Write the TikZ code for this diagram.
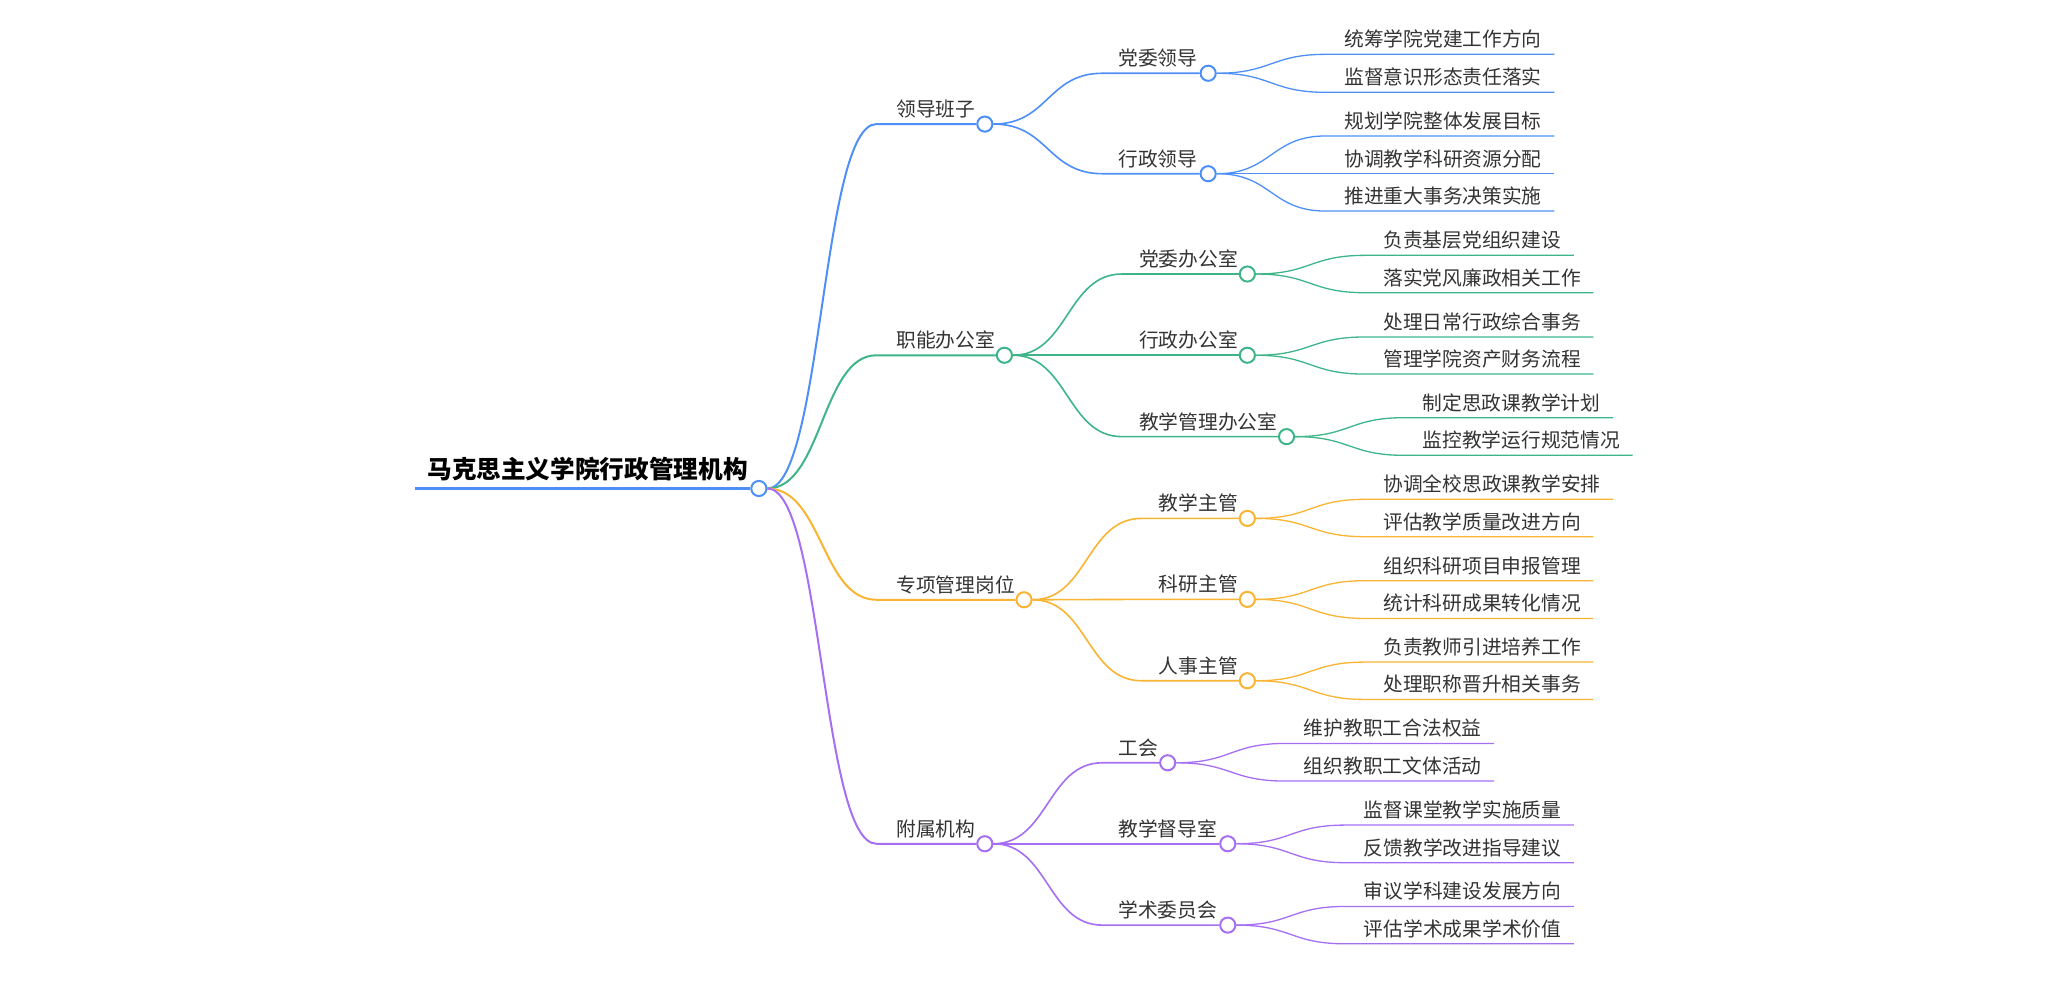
\documentclass[tikz,border=0pt]{standalone}
\usepackage{fontspec}
\setmainfont{Noto Sans CJK SC}
\definecolor{mmblue}{RGB}{77,143,247}
\definecolor{mmgreen}{RGB}{61,181,137}
\definecolor{mmorange}{RGB}{248,180,50}
\definecolor{mmpurple}{RGB}{166,110,242}
\definecolor{ink}{RGB}{51,51,51}
\begin{document}
\begin{tikzpicture}[x=0.03cm, y=-0.03cm,
	txt/.style={anchor=base west, inner sep=0pt, text=ink, font=\fontsize{12.9}{14}\selectfont},
	hub/.style={circle, draw=#1, fill=white, line width=1.3pt, inner sep=0pt, minimum size=0.348cm},
	trunk/.style={draw=#1, line width=1.3pt},
	branch/.style={draw=#1, line width=1.05pt},
	twig/.style={draw=#1, line width=0.85pt}]
	\useasboundingbox (0,0) rectangle (1568,768);
	\node[txt, text=black, font=\bfseries\fontsize{16.1}{18}\selectfont] (root) at (327,366.7) {马克思主义学院行政管理机构};
	\node[hub=mmblue] (r0) at (581,374) {}; \coordinate (r0s) at (318,374);
	\draw[mmblue, line width=2pt] (r0s) -- (r0.west);
	\node[txt] (t1) at (686,89.2) {领导班子}; \node[hub=mmblue] (o1) at (754,95) {}; \coordinate (s1) at (671,95);
	\node[txt] (t2) at (686,266.2) {职能办公室}; \node[hub=mmgreen] (o2) at (769,272) {}; \coordinate (s2) at (671,272);
	\node[txt] (t3) at (686,453.4) {专项管理岗位}; \node[hub=mmorange] (o3) at (784,459.2) {}; \coordinate (s3) at (671,459.2);
	\node[txt] (t4) at (686,640.2) {附属机构}; \node[hub=mmpurple] (o4) at (754,646) {}; \coordinate (s4) at (671,646);
	\draw[trunk=mmblue] (r0.east) .. controls +(42,0) and +(-42,0) .. (s1) -- (o1.west);
	\draw[trunk=mmgreen] (r0.east) .. controls +(42,0) and +(-42,0) .. (s2) -- (o2.west);
	\draw[trunk=mmorange] (r0.east) .. controls +(42,0) and +(-42,0) .. (s3) -- (o3.west);
	\draw[trunk=mmpurple] (r0.east) .. controls +(42,0) and +(-42,0) .. (s4) -- (o4.west);
	\node[txt] (t11) at (856,50.3) {党委领导}; \node[hub=mmblue] (o11) at (925,56.1) {}; \coordinate (s11) at (844,56.1);
	\node[txt] (t12) at (856,127.2) {行政领导}; \node[hub=mmblue] (o12) at (925,133) {}; \coordinate (s12) at (844,133);
	\draw[branch=mmblue] (o1.east) .. controls +(42,0) and +(-42,0) .. (s11) -- (o11.west);
	\draw[branch=mmblue] (o1.east) .. controls +(42,0) and +(-42,0) .. (s12) -- (o12.west);
	\node[txt] (t21) at (872,204) {党委办公室}; \node[hub=mmgreen] (o21) at (955,209.8) {}; \coordinate (s21) at (859,209.8);
	\node[txt] (t22) at (872,266.2) {行政办公室}; \node[hub=mmgreen] (o22) at (955,272) {}; \coordinate (s22) at (859,272);
	\node[txt] (t23) at (872,328.5) {教学管理办公室}; \node[hub=mmgreen] (o23) at (985,334.3) {}; \coordinate (s23) at (859,334.3);
	\draw[branch=mmgreen] (o2.east) .. controls +(42,0) and +(-42,0) .. (s21) -- (o21.west);
	\draw[branch=mmgreen] (o2.east) .. controls +(42,0) and +(-42,0) .. (s22) -- (o22.west);
	\draw[branch=mmgreen] (o2.east) .. controls +(42,0) and +(-42,0) .. (s23) -- (o23.west);
	\node[txt] (t31) at (887,391.1) {教学主管}; \node[hub=mmorange] (o31) at (955,396.9) {}; \coordinate (s31) at (874,396.9);
	\node[txt] (t32) at (887,453.1) {科研主管}; \node[hub=mmorange] (o32) at (955,458.9) {}; \coordinate (s32) at (874,458.9);
	\node[txt] (t33) at (887,515.4) {人事主管}; \node[hub=mmorange] (o33) at (955,521.2) {}; \coordinate (s33) at (874,521.2);
	\draw[branch=mmorange] (o3.east) .. controls +(42,0) and +(-42,0) .. (s31) -- (o31.west);
	\draw[branch=mmorange] (o3.east) .. controls +(42,0) and +(-42,0) .. (s32) -- (o32.west);
	\draw[branch=mmorange] (o3.east) .. controls +(42,0) and +(-42,0) .. (s33) -- (o33.west);
	\node[txt] (t41) at (856,578.2) {工会}; \node[hub=mmpurple] (o41) at (894,584) {}; \coordinate (s41) at (844,584);
	\node[txt] (t42) at (856,640.2) {教学督导室}; \node[hub=mmpurple] (o42) at (940,646) {}; \coordinate (s42) at (844,646);
	\node[txt] (t43) at (856,702.5) {学术委员会}; \node[hub=mmpurple] (o43) at (940,708.3) {}; \coordinate (s43) at (844,708.3);
	\draw[branch=mmpurple] (o4.east) .. controls +(42,0) and +(-42,0) .. (s41) -- (o41.west);
	\draw[branch=mmpurple] (o4.east) .. controls +(42,0) and +(-42,0) .. (s42) -- (o42.west);
	\draw[branch=mmpurple] (o4.east) .. controls +(42,0) and +(-42,0) .. (s43) -- (o43.west);
	\node[txt] (l111) at (1029,35.8) {统筹学院党建工作方向}; \coordinate (s111) at (1015,41.6); \coordinate (e111) at (1190,41.6);
	\node[txt] (l112) at (1029,64.9) {监督意识形态责任落实}; \coordinate (s112) at (1015,70.7); \coordinate (e112) at (1190,70.7);
	\draw[twig=mmblue] (o11.east) .. controls +(42,0) and +(-42,0) .. (s111) -- (e111);
	\draw[twig=mmblue] (o11.east) .. controls +(42,0) and +(-42,0) .. (s112) -- (e112);
	\node[txt] (l121) at (1029,98.3) {规划学院整体发展目标}; \coordinate (s121) at (1015,104.1); \coordinate (e121) at (1190,104.1);
	\node[txt] (l122) at (1029,127.2) {协调教学科研资源分配}; \coordinate (s122) at (1015,133); \coordinate (e122) at (1190,133);
	\node[txt] (l123) at (1029,155.8) {推进重大事务决策实施}; \coordinate (s123) at (1015,161.6); \coordinate (e123) at (1190,161.6);
	\draw[twig=mmblue] (o12.east) .. controls +(42,0) and +(-42,0) .. (s121) -- (e121);
	\draw[twig=mmblue] (o12.east) .. controls +(42,0) and +(-42,0) .. (s122) -- (e122);
	\draw[twig=mmblue] (o12.east) .. controls +(42,0) and +(-42,0) .. (s123) -- (e123);
	\node[txt] (l211) at (1059,189.7) {负责基层党组织建设}; \coordinate (s211) at (1045,195.5); \coordinate (e211) at (1205,195.5);
	\node[txt] (l212) at (1059,218.3) {落实党风廉政相关工作}; \coordinate (s212) at (1045,224.1); \coordinate (e212) at (1220,224.1);
	\draw[twig=mmgreen] (o21.east) .. controls +(42,0) and +(-42,0) .. (s211) -- (e211);
	\draw[twig=mmgreen] (o21.east) .. controls +(42,0) and +(-42,0) .. (s212) -- (e212);
	\node[txt] (l221) at (1059,252.2) {处理日常行政综合事务}; \coordinate (s221) at (1045,258); \coordinate (e221) at (1220,258);
	\node[txt] (l222) at (1059,280.6) {管理学院资产财务流程}; \coordinate (s222) at (1045,286.4); \coordinate (e222) at (1220,286.4);
	\draw[twig=mmgreen] (o22.east) .. controls +(42,0) and +(-42,0) .. (s221) -- (e221);
	\draw[twig=mmgreen] (o22.east) .. controls +(42,0) and +(-42,0) .. (s222) -- (e222);
	\node[txt] (l231) at (1089,314) {制定思政课教学计划}; \coordinate (s231) at (1075,319.8); \coordinate (e231) at (1235,319.8);
	\node[txt] (l232) at (1089,342.8) {监控教学运行规范情况}; \coordinate (s232) at (1075,348.6); \coordinate (e232) at (1250,348.6);
	\draw[twig=mmgreen] (o23.east) .. controls +(42,0) and +(-42,0) .. (s231) -- (e231);
	\draw[twig=mmgreen] (o23.east) .. controls +(42,0) and +(-42,0) .. (s232) -- (e232);
	\node[txt] (l311) at (1059,376.5) {协调全校思政课教学安排}; \coordinate (s311) at (1045,382.3); \coordinate (e311) at (1235,382.3);
	\node[txt] (l312) at (1059,405.1) {评估教学质量改进方向}; \coordinate (s312) at (1045,410.9); \coordinate (e312) at (1220,410.9);
	\draw[twig=mmorange] (o31.east) .. controls +(42,0) and +(-42,0) .. (s311) -- (e311);
	\draw[twig=mmorange] (o31.east) .. controls +(42,0) and +(-42,0) .. (s312) -- (e312);
	\node[txt] (l321) at (1059,438.8) {组织科研项目申报管理}; \coordinate (s321) at (1045,444.6); \coordinate (e321) at (1220,444.6);
	\node[txt] (l322) at (1059,467.7) {统计科研成果转化情况}; \coordinate (s322) at (1045,473.5); \coordinate (e322) at (1220,473.5);
	\draw[twig=mmorange] (o32.east) .. controls +(42,0) and +(-42,0) .. (s321) -- (e321);
	\draw[twig=mmorange] (o32.east) .. controls +(42,0) and +(-42,0) .. (s322) -- (e322);
	\node[txt] (l331) at (1059,501.1) {负责教师引进培养工作}; \coordinate (s331) at (1045,506.9); \coordinate (e331) at (1220,506.9);
	\node[txt] (l332) at (1059,529.7) {处理职称晋升相关事务}; \coordinate (s332) at (1045,535.5); \coordinate (e332) at (1220,535.5);
	\draw[twig=mmorange] (o33.east) .. controls +(42,0) and +(-42,0) .. (s331) -- (e331);
	\draw[twig=mmorange] (o33.east) .. controls +(42,0) and +(-42,0) .. (s332) -- (e332);
	\node[txt] (l411) at (998,563.4) {维护教职工合法权益}; \coordinate (s411) at (984,569.2); \coordinate (e411) at (1144,569.2);
	\node[txt] (l412) at (998,592.2) {组织教职工文体活动}; \coordinate (s412) at (984,598); \coordinate (e412) at (1144,598);
	\draw[twig=mmpurple] (o41.east) .. controls +(42,0) and +(-42,0) .. (s411) -- (e411);
	\draw[twig=mmpurple] (o41.east) .. controls +(42,0) and +(-42,0) .. (s412) -- (e412);
	\node[txt] (l421) at (1044,625.9) {监督课堂教学实施质量}; \coordinate (s421) at (1030,631.7); \coordinate (e421) at (1205,631.7);
	\node[txt] (l422) at (1044,654.7) {反馈教学改进指导建议}; \coordinate (s422) at (1030,660.5); \coordinate (e422) at (1205,660.5);
	\draw[twig=mmpurple] (o42.east) .. controls +(42,0) and +(-42,0) .. (s421) -- (e421);
	\draw[twig=mmpurple] (o42.east) .. controls +(42,0) and +(-42,0) .. (s422) -- (e422);
	\node[txt] (l431) at (1044,688.2) {审议学科建设发展方向}; \coordinate (s431) at (1030,694); \coordinate (e431) at (1205,694);
	\node[txt] (l432) at (1044,716.8) {评估学术成果学术价值}; \coordinate (s432) at (1030,722.6); \coordinate (e432) at (1205,722.6);
	\draw[twig=mmpurple] (o43.east) .. controls +(42,0) and +(-42,0) .. (s431) -- (e431);
	\draw[twig=mmpurple] (o43.east) .. controls +(42,0) and +(-42,0) .. (s432) -- (e432);
\end{tikzpicture}
\end{document}
